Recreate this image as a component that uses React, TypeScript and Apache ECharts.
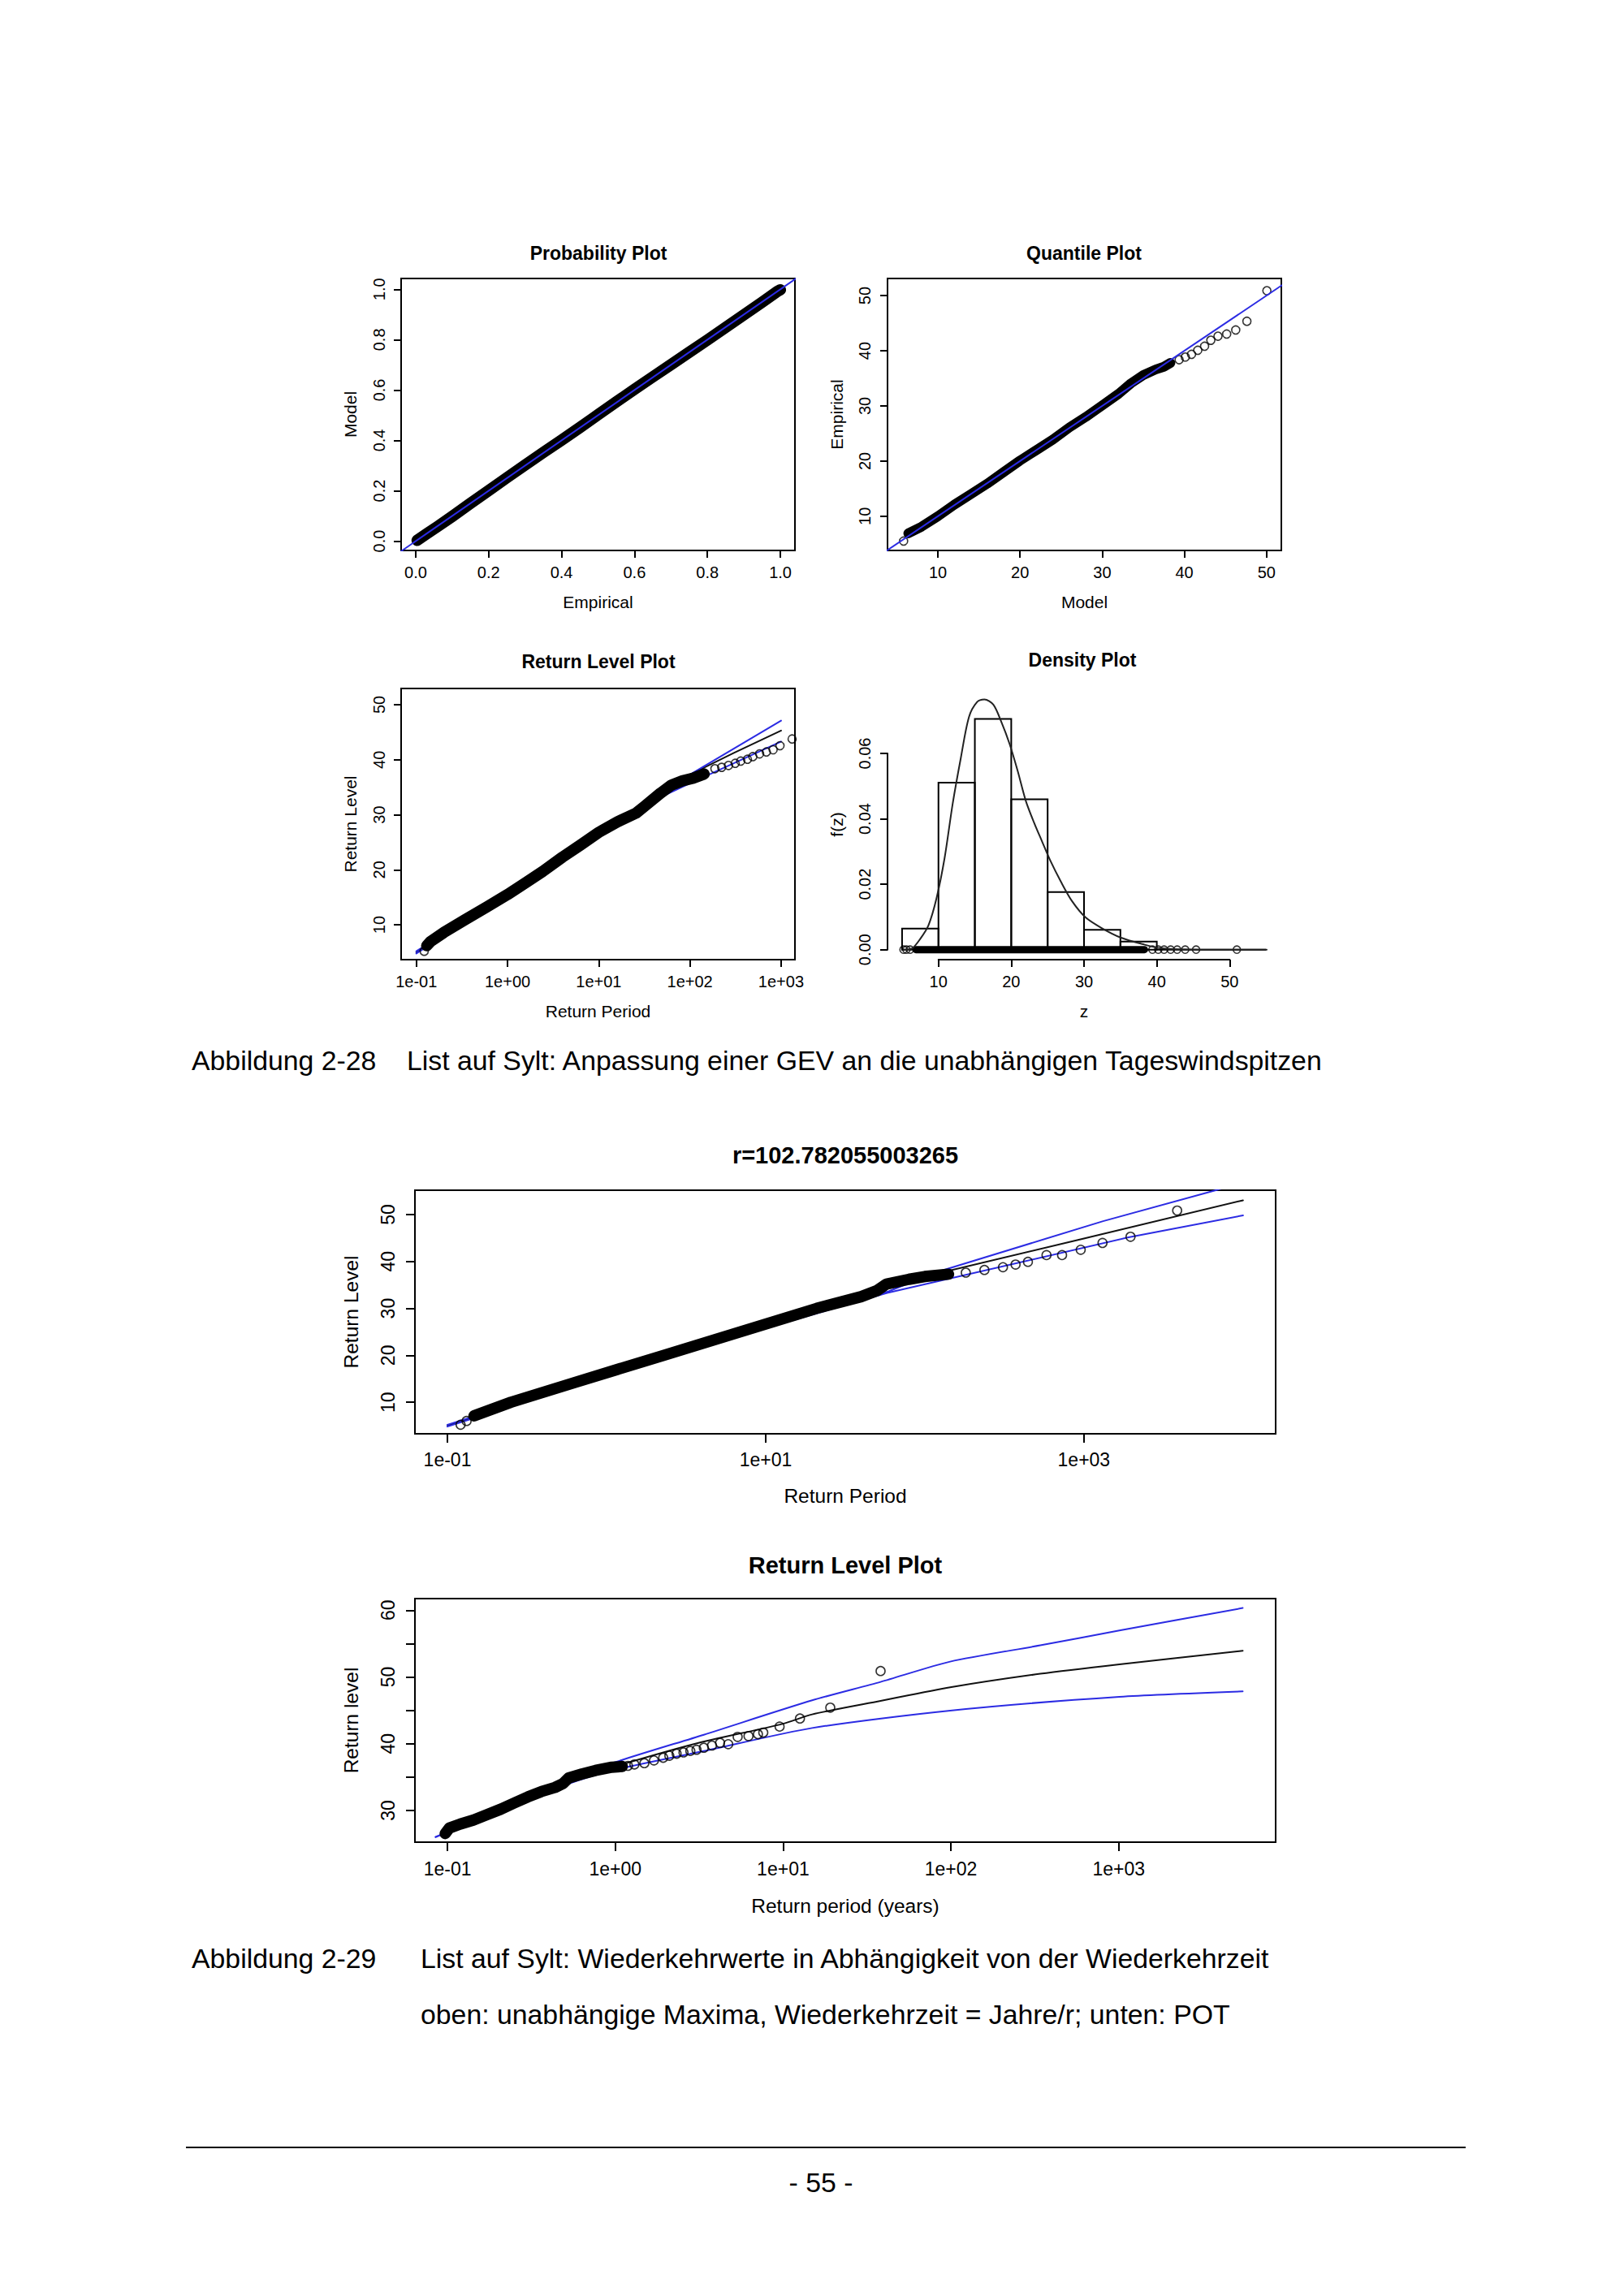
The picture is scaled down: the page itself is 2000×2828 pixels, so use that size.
import React, { useEffect, useRef } from "react";
import * as echarts from "echarts";

type Pt = [number, number];

// ---------------- data ----------------
// Probability plot: (empirical, model)
const probBand: Pt[] = [
  [0.004, 0.003], [0.03, 0.029], [0.06, 0.058], [0.1, 0.098], [0.15, 0.15], [0.2, 0.201],
  [0.25, 0.252], [0.3, 0.302], [0.35, 0.352], [0.4, 0.401], [0.45, 0.451], [0.5, 0.502],
  [0.55, 0.553], [0.6, 0.603], [0.65, 0.652], [0.7, 0.701], [0.75, 0.75], [0.8, 0.799],
  [0.85, 0.849], [0.9, 0.899], [0.95, 0.949], [0.99, 0.99], [1.0, 0.998],
];
const probDiag: Pt[] = [[-0.1, -0.1], [1.1, 1.1]];

// Quantile plot: (model, empirical)
const qqBand: Pt[] = [
  [6.4, 6.9], [8, 8.1], [10, 10], [12, 12.1], [14, 14], [16, 15.9], [18, 18], [20, 20.1],
  [22, 22], [24, 23.9], [26, 26.1], [28, 28], [30, 30.1], [32, 32.2], [33.5, 34.1],
  [35, 35.6], [36.5, 36.6], [37.5, 37.1], [38.3, 37.8],
];
const qqTail: Pt[] = [
  [5.83, 5.5], [39.36, 38.37], [40.11, 38.86], [40.87, 39.35], [41.63, 40.09], [42.46, 40.82],
  [43.22, 41.9], [44.09, 42.64], [45.15, 43.03], [46.25, 43.77], [47.61, 45.34], [50.04, 50.88],
];
const qqDiag: Pt[] = [[0, 0], [60, 60]];

// Return level plot (GEV): (return period, return level)
const rl1Band: Pt[] = [
  [0.13, 6.2], [0.143, 6.96], [0.2, 8.6], [0.34, 10.9], [0.6, 13.3], [1, 15.5], [1.6, 17.7],
  [2.43, 19.7], [4, 22.3], [6.3, 24.5], [10, 26.8], [16, 28.7], [25.7, 30.3], [31.6, 31.5],
  [47.8, 33.95], [62.8, 35.4], [82.6, 36.16], [108.6, 36.65], [143, 37.4],
];
const rl1Tail: Pt[] = [
  [0.122, 5.2], [188, 38.37], [223, 38.62], [265, 38.96], [314, 39.35], [361, 39.75], [428, 40.09],
  [490, 40.57], [581, 41.07], [690, 41.41], [818, 41.81], [973, 42.55], [1321, 43.77],
];
const rl1Fit: Pt[] = [
  [0.1, 5.0], [0.3, 10.2], [1, 15.6], [3, 21.0], [10, 26.6], [30, 32.0], [100, 37.3], [300, 41.2], [1000, 45.3],
];
const rl1Upper: Pt[] = [[0.1, 5.2], [1, 15.8], [10, 27.0], [100, 37.3], [1000, 47.1]];
const rl1Lower: Pt[] = [[0.1, 4.8], [1, 15.3], [10, 26.2], [55, 33.7], [100, 35.7], [1000, 43.3]];

// Density plot
const histBreaks = [5, 10, 15, 20, 25, 30, 35, 40, 45, 50, 55];
const histDensity = [0.00645, 0.05104, 0.07055, 0.04599, 0.01762, 0.00604, 0.00248, 0, 0, 0];
const densityCurve: Pt[] = [
  [5.27, 0], [6.39, 0.0004], [7.5, 0.0033], [8.62, 0.0074], [9.73, 0.0157], [10.85, 0.0281],
  [11.96, 0.0447], [13.08, 0.0587], [14.19, 0.0711], [15.31, 0.0757], [16.31, 0.0765],
  [17.54, 0.0749], [18.66, 0.0695], [19.77, 0.0629], [20.89, 0.0546], [22.0, 0.0455],
  [23.12, 0.0389], [24.23, 0.0331], [25.35, 0.0273], [26.84, 0.0207], [28.33, 0.0149],
  [30.19, 0.0099], [32.42, 0.0066], [35.02, 0.0037], [38.0, 0.0017], [40.6, 0.0004], [46, 0], [55.1, 0],
];
const rugDense = [6.9, 10, 15, 20, 25, 30, 34, 37, 38.3];
const rugSparse = [5.2, 5.6, 6.1, 39.4, 40.2, 41.0, 41.9, 42.8, 43.9, 45.4, 51.0];

// Return level, independent maxima (r = 102.78)
const rl2Band: Pt[] = [
  [0.147, 7.1], [0.251, 10], [0.631, 14.2], [2.29, 20], [7.08, 25.1], [20.9, 30], [39.8, 32.5],
  [50.1, 33.8], [57.5, 35.2], [79.4, 36.2], [100, 36.8], [141, 37.3],
];
const rl2Tail: Pt[] = [
  [0.121, 5.2], [0.132, 6.0], [181, 37.63], [237, 38.2], [310, 38.78], [372, 39.35], [445, 39.93],
  [582, 41.37], [729, 41.37], [955, 42.5], [1309, 43.96], [1963, 45.28], [3855, 50.86],
];
const rl2Fit: Pt[] = [[0.1, 5.0], [1, 15.8], [10, 26.3], [100, 36.8], [1000, 44.9], [10000, 53.05]];
const rl2Upper: Pt[] = [[0.1, 5.2], [1, 16], [10, 27], [59, 33.6], [115, 37.6], [1320, 48.6], [6750, 55.2], [10000, 56.9]];
const rl2Lower: Pt[] = [[0.1, 4.8], [1, 15.5], [10, 25.8], [58, 33.3], [1880, 45.1], [10000, 49.83]];

// Return level plot, POT (return period in years)
const rl3Band: Pt[] = [
  [0.097, 26.55], [0.1026, 27.37], [0.119, 27.97], [0.143, 28.58], [0.1726, 29.39], [0.208, 30.2],
  [0.25, 31.13], [0.301, 32.03], [0.363, 32.84], [0.437, 33.45], [0.489, 34.05], [0.526, 34.86],
  [0.634, 35.47], [0.762, 36.0], [0.953, 36.49], [1.1, 36.6],
];
const rl3Tail: Pt[] = [
  [1.19, 36.69], [1.3, 36.9], [1.49, 37.09], [1.7, 37.5], [1.93, 37.9], [2.1, 38.2], [2.32, 38.51],
  [2.55, 38.7], [2.8, 38.92], [3.05, 39.1], [3.37, 39.4],
  [3.77, 39.73], [4.21, 40.13], [4.71, 39.93], [5.36, 41.03], [6.22, 41.15], [7.08, 41.43],
  [7.62, 41.67], [9.53, 42.57], [12.6, 43.78], [19.1, 45.41], [38.1, 50.89],
];
const rl3Fit: Pt[] = [
  [0.095, 26.3], [0.2, 30.0], [0.5, 34.2], [1, 36.6], [3, 40.0], [10, 43.0], [14.9, 44.4],
  [38.1, 46.42], [99, 48.45], [341, 50.48], [1009, 51.9], [5480, 53.93],
];
const rl3Upper: Pt[] = [
  [0.085, 26.0], [0.2, 30.0], [0.5, 34.3], [0.99, 37.2], [3.37, 41.35], [14.9, 46.5], [38.1, 49.26],
  [99, 52.3], [341, 54.74], [1009, 56.97], [5480, 60.33],
];
const rl3Lower: Pt[] = [
  [0.085, 26.07], [0.2, 29.7], [0.5, 33.8], [1, 36.1], [3.37, 38.9], [14.9, 42.36], [99, 44.97],
  [1009, 47.03], [5480, 47.84],
];

// tick values and labels
const probTicks = [0, 0.2, 0.4, 0.6, 0.8, 1.0];
const probLabels = ["0.0", "0.2", "0.4", "0.6", "0.8", "1.0"];
const tensTicks = [10, 20, 30, 40, 50];
const tensLabels = ["10", "20", "30", "40", "50"];
const decTicks4 = [0.1, 1, 10, 100, 1000];
const decLabels4 = ["1e-01", "1e+00", "1e+01", "1e+02", "1e+03"];
const decTicks2 = [0.1, 10, 1000];
const decLabels2 = ["1e-01", "1e+01", "1e+03"];
const densTicks = [0, 0.02, 0.04, 0.06];
const densLabels = ["0.00", "0.02", "0.04", "0.06"];
const potYTicks = [30, 35, 40, 45, 50, 55, 60];
const potYLabelTicks = [30, 40, 50, 60];
const potYLabels = ["30", "40", "50", "60"];

// ---------------- styling ----------------
const FONT = '"Liberation Sans", Arial, Helvetica, sans-serif';
const BLUE = "#2b2be3";
const INK = "#000";

function lookup(ticks: number[], labels: string[]) {
  return (v: number) => {
    const i = ticks.findIndex((t) => Math.abs(t - v) <= 1e-6 * Math.max(1, Math.abs(t)));
    return i >= 0 ? labels[i] : "";
  };
}

function axis(o: any) {
  return {
    type: o.type || "value",
    gridIndex: o.g,
    min: o.min,
    max: o.max,
    logBase: 10,
    name: o.name,
    nameLocation: "middle",
    nameGap: o.nameGap,
    nameTextStyle: { fontFamily: FONT, fontSize: o.nameSize, color: INK },
    axisLine: { show: false, onZero: false },
    splitLine: { show: false },
    splitArea: { show: false },
    axisTick: {
      show: true,
      inside: false,
      length: o.tickLen,
      customValues: o.ticks,
      lineStyle: { color: INK, width: 2 },
    },
    axisLabel: {
      show: true,
      customValues: o.labelTicks || o.ticks,
      margin: o.margin,
      rotate: o.rotate || 0,
      fontFamily: FONT,
      fontSize: o.fontSize,
      color: INK,
      formatter: lookup(o.labelTicks || o.ticks, o.labels),
    },
  };
}

const lineS = (g: number, data: any[], color: string, width: number, z: number, extra: any = {}) => ({
  type: "line",
  xAxisIndex: g,
  yAxisIndex: g,
  data,
  showSymbol: false,
  symbol: "none",
  silent: true,
  lineStyle: { color, width, cap: "round", join: "round" },
  z,
  ...extra,
});
const rings = (g: number, data: any[], size = 10) => ({
  type: "scatter",
  xAxisIndex: g,
  yAxisIndex: g,
  data,
  symbol: "circle",
  symbolSize: size,
  silent: true,
  itemStyle: { color: "rgba(0,0,0,0)", borderColor: INK, borderWidth: 1.6 },
  z: 5,
});

function buildOption() {
  const grids = [
    { left: 494, top: 343, width: 485, height: 335 },
    { left: 1093, top: 343, width: 485, height: 335 },
    { left: 494, top: 848, width: 485, height: 334 },
    { left: 1093, top: 849, width: 484, height: 333 },
    { left: 511, top: 1466, width: 1060, height: 300 },
    { left: 511, top: 1969, width: 1060, height: 300 },
  ].map((g, i) => ({
    ...g,
    show: i !== 3,
    borderColor: INK,
    borderWidth: 2,
    backgroundColor: "transparent",
    containLabel: false,
    outerBoundsMode: "none",
  }));

  const S = { fontSize: 20, nameSize: 21, tickLen: 9 };
  const L = { fontSize: 23, nameSize: 24.5, tickLen: 11 };
  const Y4MIN = -0.00306;

  const xAxis = [
    axis({ g: 0, min: -0.04, max: 1.04, ticks: probTicks, labels: probLabels, name: "Empirical", nameGap: 53, margin: 17, ...S }),
    axis({ g: 1, min: 3.87, max: 51.8, ticks: tensTicks, labels: tensLabels, name: "Model", nameGap: 53, margin: 17, ...S }),
    axis({ g: 2, type: "log", min: 0.0681, max: 1419, ticks: decTicks4, labels: decLabels4, name: "Return Period", nameGap: 53, margin: 17, ...S }),
    axis({ g: 3, min: 3, max: 57, ticks: tensTicks, labels: tensLabels, name: "z", nameGap: 53, margin: 17, ...S }),
    axis({ g: 4, type: "log", min: 0.0625, max: 16032, ticks: decTicks2, labels: decLabels2, name: "Return Period", nameGap: 64, margin: 20, ...L }),
    axis({ g: 5, type: "log", min: 0.064, max: 8610, ticks: decTicks4, labels: decLabels4, name: "Return period (years)", nameGap: 66, margin: 21, ...L }),
  ];
  const yAxis = [
    axis({ g: 0, min: -0.037, max: 1.043, ticks: probTicks, labels: probLabels, name: "Model", nameGap: 52, margin: 17, rotate: 90, ...S }),
    axis({ g: 1, min: 3.8, max: 53.1, ticks: tensTicks, labels: tensLabels, name: "Empirical", nameGap: 52, margin: 18, rotate: 90, ...S }),
    axis({ g: 2, min: 3.67, max: 52.95, ticks: tensTicks, labels: tensLabels, name: "Return Level", nameGap: 52, margin: 17, rotate: 90, ...S }),
    axis({ g: 3, min: Y4MIN, max: 0.0796, ticks: densTicks, labels: densLabels, name: "f(z)", nameGap: 52, margin: 18, rotate: 90, ...S }),
    axis({ g: 4, min: 3.27, max: 55.2, ticks: tensTicks, labels: tensLabels, name: "Return Level", nameGap: 66, margin: 22, rotate: 90, ...L }),
    axis({ g: 5, min: 25.26, max: 61.74, ticks: potYTicks, labelTicks: potYLabelTicks, labels: potYLabels, name: "Return level", nameGap: 66, margin: 22, rotate: 90, ...L }),
  ];

  const histData = histDensity.map((d, i) => [histBreaks[i], histBreaks[i + 1], d]);

  const series: any[] = [
    // 1 probability plot
    lineS(0, probBand, INK, 14, 3),
    lineS(0, probDiag, BLUE, 2, 6),
    // 2 quantile plot
    lineS(1, qqBand, INK, 12, 3),
    rings(1, qqTail),
    lineS(1, qqDiag, BLUE, 2, 6),
    // 3 return level plot
    lineS(2, rl1Fit, "#111", 2, 2),
    lineS(2, rl1Upper, BLUE, 2, 2),
    lineS(2, rl1Lower, BLUE, 2, 2),
    lineS(2, rl1Band, INK, 14, 3),
    rings(2, rl1Tail),
    // 4 density plot
    {
      type: "custom",
      xAxisIndex: 3,
      yAxisIndex: 3,
      data: histData,
      encode: { x: [0, 1], y: 2 },
      silent: true,
      z: 2,
      renderItem: (_p: any, api: any) => {
        const a = api.coord([api.value(0), api.value(2)]);
        const b = api.coord([api.value(1), 0]);
        return {
          type: "rect",
          shape: { x: a[0], y: a[1], width: b[0] - a[0], height: b[1] - a[1] },
          style: { fill: "rgba(0,0,0,0)", stroke: INK, lineWidth: 2 },
        };
      },
    },
    lineS(3, rugDense.map((z) => [z, 0]), INK, 9, 3),
    rings(3, rugSparse.map((z) => [z, 0]), 9),
    lineS(3, densityCurve, "#222", 2, 6, { smooth: 0.3 }),
    lineS(3, [[10, Y4MIN], [50, Y4MIN]], INK, 2, 6, { clip: false }),
    lineS(3, [[3, 0], [3, 0.06]], INK, 2, 6, { clip: false }),
    // 5 return level, r=...
    lineS(4, rl2Fit, "#111", 2, 2),
    lineS(4, rl2Upper, BLUE, 2, 2),
    lineS(4, rl2Lower, BLUE, 2, 2),
    lineS(4, rl2Band, INK, 14, 3),
    rings(4, rl2Tail, 11),
    // 6 POT return level
    lineS(5, rl3Fit, "#111", 2, 2, { smooth: 0.25 }),
    lineS(5, rl3Upper, BLUE, 2, 2, { smooth: 0.25 }),
    lineS(5, rl3Lower, BLUE, 2, 2, { smooth: 0.25 }),
    lineS(5, rl3Band, INK, 14, 3),
    rings(5, rl3Tail, 11),
  ];

  const txt = (text: string, x: number, y: number, size: number, bold = false, align = "center") => ({
    type: "text",
    x,
    y,
    silent: true,
    style: {
      text,
      fill: INK,
      fontFamily: FONT,
      fontSize: size,
      fontWeight: bold ? "bold" : "normal",
      textAlign: align,
      textVerticalAlign: "middle",
      verticalAlign: "middle",
    },
  });

  const CAP = 33.8;
  const graphic = [
    txt("Probability Plot", 737, 312, 23, true),
    txt("Quantile Plot", 1335, 312, 23, true),
    txt("Return Level Plot", 737, 815, 23, true),
    txt("Density Plot", 1333, 813, 23, true),
    txt("r=102.782055003265", 1041, 1423, 29, true),
    txt("Return Level Plot", 1041, 1928, 29, true),
    txt("Abbildung 2-28", 236, 1306, CAP, false, "left"),
    txt("List auf Sylt: Anpassung einer GEV an die unabhängigen Tageswindspitzen", 501, 1306, CAP, false, "left"),
    txt("Abbildung 2-29", 236, 2412, CAP, false, "left"),
    txt("List auf Sylt: Wiederkehrwerte in Abhängigkeit von der Wiederkehrzeit", 518, 2412, CAP, false, "left"),
    txt("oben: unabhängige Maxima, Wiederkehrzeit = Jahre/r; unten: POT", 518, 2481, CAP, false, "left"),
    txt("- 55 -", 1011, 2688, CAP),
    {
      type: "line",
      silent: true,
      shape: { x1: 229, y1: 2645, x2: 1805, y2: 2645 },
      style: { stroke: INK, lineWidth: 2 },
    },
  ];

  return {
    animation: false,
    backgroundColor: "#fff",
    textStyle: { fontFamily: FONT },
    grid: grids,
    xAxis,
    yAxis,
    series,
    graphic,
  };
}

export default function App() {
  const ref = useRef<HTMLDivElement>(null);
  useEffect(() => {
    if (!ref.current) return;
    const chart = echarts.init(ref.current, null, { renderer: "svg" });
    chart.setOption(buildOption() as any);
    return () => chart.dispose();
  }, []);
  return (
    <div
      ref={ref}
      style={{ position: "absolute", left: 0, top: 0, width: 2000, height: 2828, background: "#fff" }}
    />
  );
}
